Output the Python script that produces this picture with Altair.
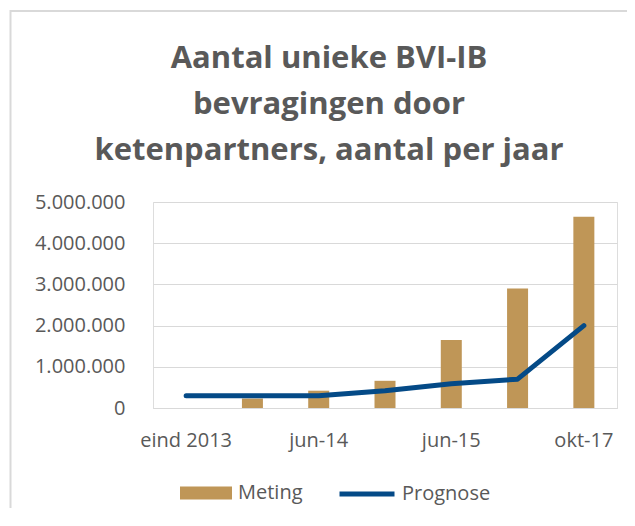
import altair as alt
import pandas as pd

# ---- data ----
categories = ["eind 2013", "mrt-14", "jun-14", "dec-14", "jun-15", "dec-16", "okt-17"]
shown_labels = ["eind 2013", "jun-14", "jun-15", "okt-17"]
meting = [None, 230000, 420000, 660000, 1650000, 2900000, 4640000]
prognose = [300000, 300000, 300000, 420000, 590000, 700000, 2000000]
y_ticks = [0, 1000000, 2000000, 3000000, 4000000, 5000000]
title_lines = ["Aantal unieke BVI-IB", "bevragingen door", "ketenpartners, aantal per jaar"]

df = pd.DataFrame({
    "periode": categories,
    "Meting": meting,
    "Prognose": prognose,
    "m": ["Meting"] * len(categories),
    "p": ["Prognose"] * len(categories),
})

TEXT = "#595959"
GRID = "#d9d9d9"
GOLD = "#BF9657"
BLUE = "#044A87"
FONT = "Open Sans"

label_expr = "indexof(" + str(shown_labels) + ", datum.label) >= 0 ? datum.label : ''"

x_enc = alt.X(
    "periode:N",
    sort=categories,
    scale=alt.Scale(paddingInner=0, paddingOuter=0),
    axis=alt.Axis(
        title=None, labelAngle=0, labelExpr=label_expr, labelFont=FONT,
        labelFontSize=20, labelColor=TEXT, labelPadding=22, ticks=False,
        domainColor=GRID, domainWidth=1, grid=False,
    ),
)
y_enc = alt.Y(
    "Meting:Q",
    scale=alt.Scale(domain=[0, 5000000], nice=False),
    axis=alt.Axis(
        title=None, values=y_ticks,
        labelExpr="join(split(format(datum.value, ','), ','), '.')",
        labelFont=FONT, labelFontSize=20, labelColor=TEXT, labelPadding=28,
        ticks=False, domain=False, gridColor=GRID, gridWidth=1,
    ),
)

bars = alt.Chart(df).mark_bar(size=21).encode(
    x=x_enc,
    y=y_enc,
    fill=alt.Fill(
        "m:N",
        scale=alt.Scale(domain=["Meting"], range=[GOLD]),
        legend=alt.Legend(
            title=None, orient="none", legendX=27, legendY=265,
            symbolType="M-1,-0.25H1V0.25H-1Z", symbolSize=2704,
            symbolStrokeWidth=0, labelFont=FONT, labelFontSize=20,
            labelColor=TEXT, labelOffset=6, padding=0,
        ),
    ),
)

line = alt.Chart(df).mark_line(strokeWidth=5, strokeCap="round", strokeJoin="round").encode(
    x=x_enc,
    y=alt.Y("Prognose:Q"),
    stroke=alt.Stroke(
        "p:N",
        scale=alt.Scale(domain=["Prognose"], range=[BLUE]),
        legend=alt.Legend(
            title=None, orient="none", legendX=184, legendY=262,
            symbolType="stroke", symbolSize=3025, symbolStrokeWidth=5,
            labelFont=FONT, labelFontSize=20, labelColor=TEXT,
            labelOffset=5, padding=0,
        ),
    ),
)

frame = alt.Chart(pd.DataFrame({"a": [0]})).mark_rect(
    fill="transparent", stroke=GRID, strokeWidth=2
).encode(
    x=alt.value(-142.5), y=alt.value(-191), x2=alt.value(800), y2=alt.value(700)
)

chart = alt.layer(frame, bars, line).properties(
    width=464,
    height=206,
    title=alt.Title(
        text=title_lines, font=FONT, fontSize=31, fontWeight="bold",
        color=TEXT, lineHeight=46, anchor="middle", frame="group", dx=-56,
        offset=20, dy=177,
    ),
    autosize=alt.AutoSizeParams(type="none"),
    padding={"left": 145, "top": 194, "right": 10, "bottom": 100},
).configure_view(stroke=None).configure(background="white")

chart.save("out.html", embed_options={"renderer": "svg", "actions": False})
